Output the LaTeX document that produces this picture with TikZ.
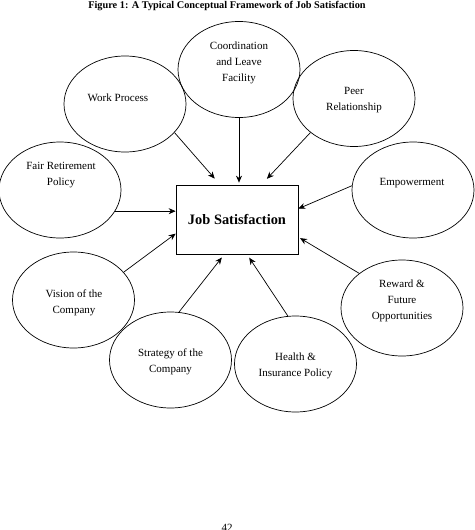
\documentclass[tikz,border=0pt]{standalone}
\usepackage{fontspec}
\setmainfont{Liberation Serif}
\usetikzlibrary{
        arrows.meta,
        calc,
        positioning,
        shapes.geometric
    }
\tikzset{>={Stealth[length=7pt,width=6pt]},auto}
\tikzset{factor/.style={draw,ellipse,line width=0.7pt,inner sep=0pt,minimum width=122pt,minimum height=96pt}}
\tikzset{factor text/.style={align=center,font=\fontsize{11}{16}\selectfont}}
\tikzset{core/.style={draw,rectangle,line width=0.7pt,minimum width=122pt,minimum height=69pt,font=\fontsize{14.4}{17}\selectfont\bfseries}}

\begin{document}
\begin{tikzpicture}[x=1pt,y=1pt]
                \useasboundingbox (0,0) rectangle (474,-530);
                \node[anchor=base,font=\fontsize{10.3}{12}\selectfont\bfseries] (title) at (227,-8.5)
                    {Figure 1: A Typical Conceptual Framework of Job Satisfaction};
                \node[core] (js) at (237,-219.5) {Job Satisfaction};
                % factors round the box
                \node[factor] (co) at (239,-69.5) {};
                \node[factor] (wp) at (125,-104) {};
                \node[factor] (pr) at (354,-98.5) {};
                \node[factor] (fr) at (60,-190) {};
                \node[factor] (em) at (413,-190) {};
                \node[factor] (vi) at (73.5,-300) {};
                \node[factor] (st) at (170.5,-360) {};
                \node[factor] (he) at (295.5,-364) {};
                \node[factor] (rw) at (402,-308) {};
                \node[factor text] (co-t) at (239,-63) {Coordination\\and Leave\\Facility};
                \node[factor text] (wp-t) at (118,-98) {Work Process};
                \node[factor text] (pr-t) at (354,-100) {Peer\\Relationship};
                \node[factor text] (fr-t) at (61,-175.5) {Fair Retirement\\Policy};
                \node[factor text] (em-t) at (412,-183) {Empowerment};
                \node[factor text] (vi-t) at (74,-302.5) {Vision of the\\Company};
                \node[factor text] (st-t) at (170.5,-362) {Strategy of the\\Company};
                \node[factor text] (he-t) at (295.5,-366) {Health \&\\Insurance Policy};
                \node[factor text] (rw-t) at (402,-301) {Reward \&\\Future\\Opportunities};
                \path[->,line width=0.7pt]
                    (wp.-30)  edge[shorten >=8pt] (js.116)
                    (co.south) edge[shorten >=2pt] (co.south |- js.north)
                    (pr.-142) edge[shorten >=8pt] (js.55)
                    (fr.-21)  edge (fr.-21 -| js.west)
                    (em.176)  edge (js.10)
                    (vi.29)   edge (js.-167)
                    (st.80)   edge[shorten >=4pt] (js.-110)
                    (he.99)   edge[shorten >=4pt] (js.-74)
                    (rw.141)  edge[shorten >=2pt] (js.-16)
                    ;
                \node[anchor=base,font=\fontsize{11}{13}\selectfont] (page) at (227,-531) {42};
            \end{tikzpicture}
\end{document}
